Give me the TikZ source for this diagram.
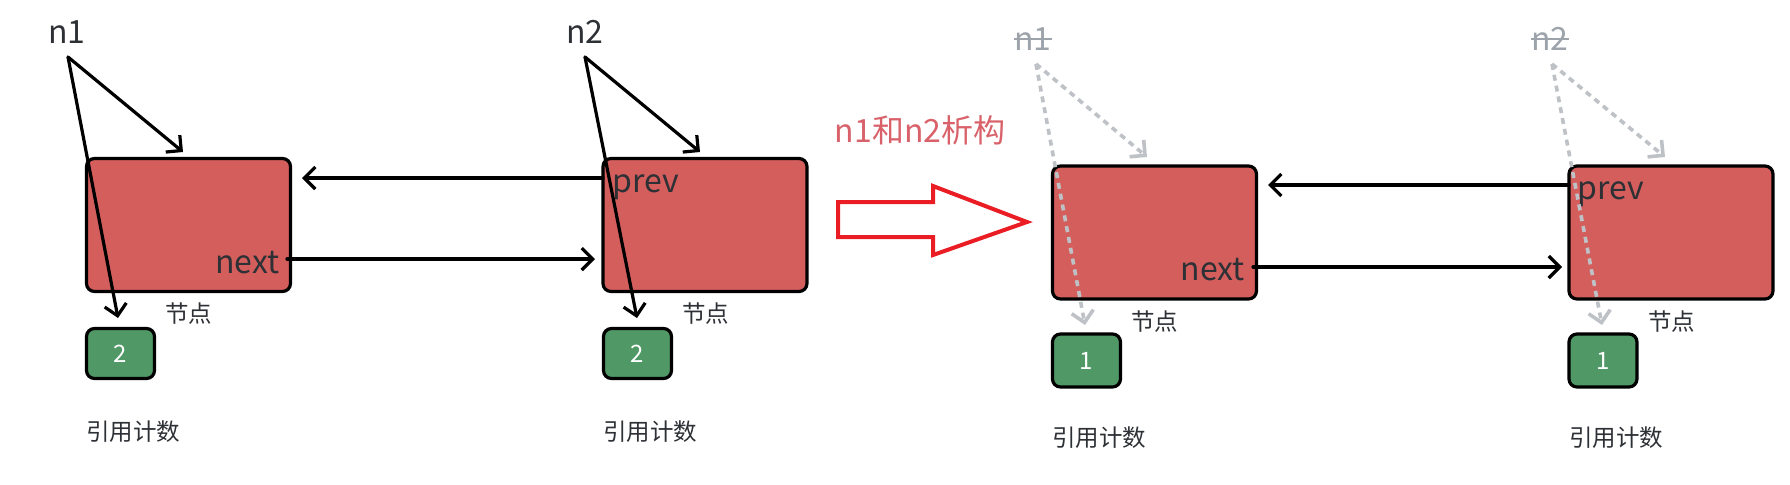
\documentclass[tikz,border=0pt]{standalone}
\usepackage{fontspec}
\setmainfont{Noto Sans CJK SC}
\usetikzlibrary{arrows.meta}
\definecolor{boxred}{RGB}{212,94,92}
\definecolor{boxgreen}{RGB}{80,152,102}
\definecolor{txtdark}{RGB}{45,48,53}
\definecolor{dashgray}{RGB}{190,194,199}
\definecolor{txtgray}{RGB}{157,163,170}
\definecolor{bigred}{RGB}{234,28,36}
\definecolor{titlered}{RGB}{217,97,106}
\tikzset{
  nodebox/.style={draw=black, line width=1.6pt, fill=boxred, rounded corners=4pt,
    minimum width=102pt, minimum height=66.5pt, inner sep=0pt},
  cntbox/.style={draw=black, line width=1.6pt, fill=boxgreen, rounded corners=4pt,
    minimum width=34pt, minimum height=25pt, inner sep=0pt, text=white, font=\fontsize{12}{14}\selectfont},
  lbl/.style={text=txtdark, inner sep=0pt, font=\fontsize{16}{19}\selectfont},
  glbl/.style={text=txtgray, inner sep=0pt, font=\fontsize{16}{19}\selectfont},
  cjk/.style={text=txtdark, inner sep=0pt, font=\fontsize{11.75}{14}\selectfont},
  ptr/.style={draw=black, line width=1.6pt, line cap=round,
    -{Straight Barb[length=5.5pt,width=11pt,line width=1.6pt]}},
  gptr/.style={draw=dashgray, line width=1.8pt, dash pattern=on 3pt off 2.5pt,
    -{Straight Barb[length=5.5pt,width=11pt,line width=1.8pt]}},
}
\begin{document}
\begin{tikzpicture}[x=0.5pt, y=-0.5pt]
\useasboundingbox (0,0) rectangle (1790,484);
% ---------- left panel ----------
\node[nodebox] (b1) at (188.5,225) {};
\node[nodebox] (b2) at (705,225) {};
\node[cntbox] (c1) at (120.5,353.5) {2};
\node[cntbox] (c2) at (637.5,353.5) {2};
\node[lbl, anchor=base west] (n1) at (48,43) {n1};
\node[lbl, anchor=base west] (n2) at (566,43) {n2};
\node[lbl, anchor=base east] (nx1) at (280,273) {next};
\node[lbl, anchor=base west] (pv2) at (612,192) {prev};
\node[cjk] (j1) at (188.5,314) {节点};
\node[cjk] (j2) at (705.5,314) {节点};
\node[cjk] (r1) at (133,432) {引用计数};
\node[cjk] (r2) at (650,432) {引用计数};
\coordinate (n1s) at (68,57);
\coordinate (n1t) at (183,152);
\coordinate (n1c) at (118,318);
\coordinate (n2s) at (585,57);
\coordinate (n2t) at (700,152);
\coordinate (n2c) at (637,318);
\coordinate (pv2s) at (603,178);
\coordinate (pv2t) at (302,178);
\coordinate (nx1s) at (287,259);
\coordinate (nx1t) at (595,259);
\draw[ptr] (n1s) -- (n1t);
\draw[ptr] (n1s) -- (n1c);
\draw[ptr] (n2s) -- (n2t);
\draw[ptr] (n2s) -- (n2c);
\draw[ptr] (pv2s) -- (pv2t);
\draw[ptr] (nx1s) -- (nx1t);
% ---------- middle ----------
\node[text=titlered, inner sep=0pt, font=\fontsize{16}{19}\selectfont] (title) at (920,130) {n1和n2析构};
\draw[bigred, line width=2pt] (838,202) -- (933,202) -- (933,186) -- (1027,222)
  -- (933,255) -- (933,237) -- (838,237) -- cycle;
% ---------- right panel ----------
\node[nodebox] (b3) at (1154.5,232.5) {};
\node[nodebox] (b4) at (1671,232.5) {};
\node[cntbox, minimum height=26.5pt] (c3) at (1086.5,360.5) {1};
\node[cntbox, minimum height=26.5pt] (c4) at (1603,360.5) {1};
\node[glbl, anchor=base west] (n1g) at (1014,50) {n1};
\node[glbl, anchor=base west] (n2g) at (1531,50) {n2};
\draw[txtgray, line width=1pt] ([yshift=5.5pt]n1g.base west) -- ([yshift=5.5pt]n1g.base east);
\draw[txtgray, line width=1pt] ([yshift=5.5pt]n2g.base west) -- ([yshift=5.5pt]n2g.base east);
\node[lbl, anchor=base east] (nx3) at (1245,280) {next};
\node[lbl, anchor=base west] (pv4) at (1577,199) {prev};
\node[cjk] (j3) at (1154.5,322) {节点};
\node[cjk] (j4) at (1671.5,322) {节点};
\node[cjk] (r3) at (1099,438) {引用计数};
\node[cjk] (r4) at (1616,438) {引用计数};
\coordinate (n1gs) at (1036,64);
\coordinate (n1gt) at (1147,157);
\coordinate (n1gc) at (1085,325);
\coordinate (n2gs) at (1552,64);
\coordinate (n2gt) at (1665,157);
\coordinate (n2gc) at (1602,325);
\coordinate (pv4s) at (1569,185);
\coordinate (pv4t) at (1268,185);
\coordinate (nx3s) at (1253,267);
\coordinate (nx3t) at (1562,267);
\draw[ptr] (pv4s) -- (pv4t);
\draw[ptr] (nx3s) -- (nx3t);
\draw[gptr] (n1gs) -- (n1gt);
\draw[gptr] (n1gs) -- (n1gc);
\draw[gptr] (n2gs) -- (n2gt);
\draw[gptr] (n2gs) -- (n2gc);
\end{tikzpicture}
\end{document}
